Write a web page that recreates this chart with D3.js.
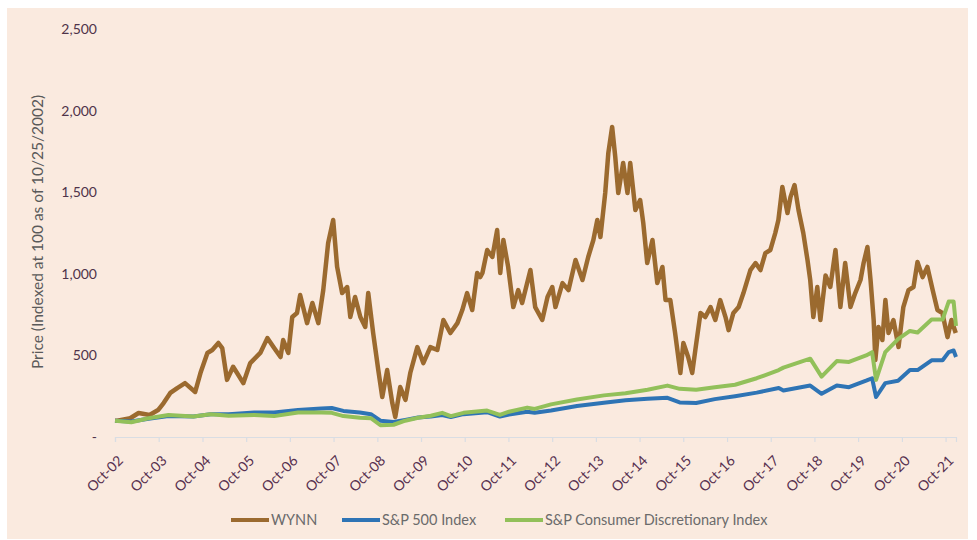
<!DOCTYPE html>
<html>
<head>
<meta charset="utf-8">
<script src="https://cdn.jsdelivr.net/npm/d3@7"></script>
<style>
  html, body { margin: 0; padding: 0; background: #ffffff; }
  svg { display: block; }
  text { font-family: Lato, "Open Sans", "Noto Sans", sans-serif; }
</style>
</head>
<body>
<svg id="chart" width="977" height="540"></svg>
<script>
// ---------- data ----------
const seriesNames = ["WYNN", "S&P 500 Index", "S&P Consumer Discretionary Index"];
const yTickValues = [0, 500, 1000, 1500, 2000, 2500];
const xTickLabels = ["Oct-02","Oct-03","Oct-04","Oct-05","Oct-06","Oct-07","Oct-08","Oct-09","Oct-10","Oct-11",
                     "Oct-12","Oct-13","Oct-14","Oct-15","Oct-16","Oct-17","Oct-18","Oct-19","Oct-20","Oct-21"];

const wynnDates = [
 "2002-10-25","2002-11-13","2003-03-01","2003-05-10","2003-08-10","2003-10-20","2003-12-05","2004-01-30","2004-03-28",
 "2004-06-01","2004-08-25","2004-10-08","2004-12-05","2005-01-15","2005-03-07","2005-04-08","2005-05-18","2005-07-08",
 "2005-08-10","2005-10-01","2005-11-28","2006-02-20","2006-04-20","2006-06-10","2006-08-08","2006-08-30","2006-10-12",
 "2006-11-14","2006-12-24","2007-01-19","2007-03-18","2007-05-01","2007-06-20","2007-07-31","2007-09-10","2007-10-22",
 "2007-11-24","2008-01-05","2008-02-16","2008-03-13","2008-04-22","2008-06-05","2008-07-16","2008-08-10","2008-09-20",
 "2008-11-02","2008-12-05","2009-01-15","2009-02-27","2009-03-24","2009-05-04","2009-06-17","2009-07-27","2009-09-24",
 "2009-11-13","2010-01-11","2010-03-10","2010-04-30","2010-06-27","2010-08-25","2010-10-05","2010-11-14","2010-12-27",
 "2011-02-06","2011-03-04","2011-03-22","2011-05-01","2011-06-13","2011-07-23","2011-08-18","2011-09-13","2011-10-23",
 "2011-12-05","2012-01-15","2012-02-17","2012-04-26","2012-06-05","2012-08-03","2012-09-16","2012-10-26","2012-11-21",
 "2013-01-19","2013-03-10","2013-05-08","2013-07-05","2013-08-22","2013-10-04","2013-11-06","2013-12-02","2014-01-11",
 "2014-02-06","2014-03-10","2014-04-05","2014-04-30","2014-06-10","2014-07-16","2014-08-08","2014-09-20","2014-10-30",
 "2014-11-25","2014-12-28","2015-02-10","2015-03-22","2015-05-04","2015-05-30","2015-07-09","2015-08-18","2015-10-01",
 "2015-10-26","2015-12-05","2016-01-08","2016-02-03","2016-03-17","2016-04-26","2016-06-09","2016-07-19","2016-08-29",
 "2016-10-12","2016-11-07","2016-12-17","2017-01-30","2017-03-11","2017-05-08","2017-06-20","2017-07-31","2017-09-10",
 "2017-10-22","2017-12-02","2017-12-28","2018-01-30","2018-03-14","2018-04-08","2018-05-12","2018-06-14","2018-07-24",
 "2018-08-28","2018-09-20","2018-10-16","2018-11-18","2018-12-14","2019-01-26","2019-03-07","2019-04-19","2019-05-30",
 "2019-07-09","2019-08-22","2019-10-01","2019-11-14","2019-12-10","2020-01-11","2020-02-06","2020-03-03","2020-03-17",
 "2020-04-12","2020-05-15","2020-06-09","2020-07-05","2020-08-15","2020-09-27","2020-11-06","2020-12-19","2021-01-30",
 "2021-03-04","2021-04-16","2021-05-26","2021-07-09","2021-08-18","2021-09-28","2021-11-10","2021-12-13","2022-01-18"
];
const wynnValues = [
 100,100,115,147,135,165,208,270,300,
 330,276,392,515,533,576,545,350,430,
 392,330,453,515,606,551,490,594,515,
 735,760,870,698,821,698,900,1189,1330,
 1042,882,919,735,858,735,674,882,637,
 410,245,410,208,123,306,227,392,551,
 453,551,533,717,637,698,778,882,778,
 1005,980,1005,1146,1103,1268,1005,1207,1042,
 796,900,821,1023,796,717,858,919,796,
 943,900,1085,962,1103,1207,1330,1225,1495,
 1740,1900,1716,1495,1679,1495,1679,1391,1452,
 1311,1066,1207,943,1042,839,839,637,392,
 576,490,392,533,760,735,796,717,839,
 735,655,760,796,882,1023,1066,1023,1127,
 1146,1250,1330,1532,1372,1470,1544,1391,1250,
 1085,962,735,919,717,990,919,1146,796,
 1066,796,882,962,1066,1164,962,717,472,
 674,594,839,637,717,551,796,900,919,
 1072,980,1042,900,778,760,612,717,637
];

const spxDates = [
 "2002-10-25","2003-03-10","2003-08-01","2004-01-15","2004-08-10","2005-01-01","2005-06-01","2006-01-01","2006-06-15",
 "2007-01-01","2007-07-15","2007-10-10","2008-01-15","2008-06-01","2008-09-01","2008-11-20","2009-03-09","2009-06-15",
 "2009-10-01","2010-01-15","2010-04-20","2010-07-01","2010-10-15","2011-04-30","2011-08-15","2011-10-30","2012-03-30",
 "2012-06-01","2012-10-15","2013-05-20","2013-12-31","2014-06-30","2014-12-31","2015-06-15","2015-09-25","2016-02-10",
 "2016-07-15","2016-12-31","2017-06-30","2017-12-31","2018-02-08","2018-09-20","2018-12-24","2019-04-30","2019-08-10",
 "2019-12-31","2020-02-19","2020-03-23","2020-06-08","2020-09-23","2020-12-31","2021-03-05","2021-06-30","2021-09-30",
 "2021-11-20","2021-12-31","2022-01-20"
];
const spxValues = [
 100,95,112,128,125,140,140,150,150,
 165,175,178,160,150,140,100,92,105,
 120,125,135,122,140,152,125,138,155,
 148,162,190,210,225,235,240,212,208,
 232,250,272,300,285,315,265,315,305,
 345,360,245,330,345,410,410,470,470,
 520,530,490
];
const cdDates = spxDates;
const cdValues = [
 100,90,115,135,125,140,130,135,128,
 150,150,148,128,118,115,72,75,100,
 118,130,148,128,148,162,135,155,180,
 172,200,230,255,268,290,315,295,290,
 305,320,360,410,425,480,370,465,460,
 500,520,350,520,600,650,640,720,720,
 830,830,680
];

// ---------- layout ----------
const svg = d3.select("#chart");
const parse = d3.timeParse("%Y-%m-%d");
const colors = ["#9B6A2F", "#2E74B5", "#92C05A"];

svg.append("rect").attr("x", 7).attr("y", 8).attr("width", 961).attr("height", 531).attr("fill", "#FAEADF");

const x = d3.scaleTime()
  .domain([parse("2002-10-25"), parse("2022-01-20")])
  .range([115, 956]);
const y = d3.scaleLinear().domain([0, 2500]).range([437, 29]);

// y axis labels
const yAxis = d3.axisLeft(y).tickValues(yTickValues).tickSize(0).tickPadding(0)
  .tickFormat(d => d === 0 ? "-" : d3.format(",")(d));
const gy = svg.append("g").attr("transform", "translate(97,0)").call(yAxis);
gy.select(".domain").remove();
gy.selectAll("text").attr("fill", "#4f3349").attr("font-size", 14)
  .style("font-family", "Lato, sans-serif");

// x axis
const xTickDates = xTickLabels.map((l, i) => parse((2002 + i) + "-10-25"));
const xAxis = d3.axisBottom(x).tickValues(xTickDates).tickSize(5)
  .tickFormat((d, i) => xTickLabels[i]);
const gx = svg.append("g").attr("transform", "translate(0,437)").call(xAxis);
gx.select(".domain").attr("stroke", "#D9DDE3").attr("stroke-width", 1.2);
gx.selectAll(".tick line").attr("stroke", "#D9DDE3").attr("stroke-width", 1.2);
gx.selectAll("text")
  .attr("fill", "#57304f").attr("font-size", 14)
  .style("font-family", "Lato, sans-serif")
  .attr("text-anchor", "end")
  .attr("dy", "0.35em")
  .attr("y", 0)
  .attr("transform", "translate(5,21) rotate(-45)");

// y axis title
svg.append("text")
  .attr("transform", "translate(43,232) rotate(-90)")
  .attr("text-anchor", "middle")
  .attr("font-size", 15.5)
  .attr("fill", "#5a5a5a")
  .text("Price (Indexed at 100 as of 10/25/2002)");

// lines
const line = d3.line().x(d => x(d.date)).y(d => y(d.value));
const series = [
  { dates: wynnDates, values: wynnValues, width: 4.5 },
  { dates: spxDates, values: spxValues, width: 4 },
  { dates: cdDates, values: cdValues, width: 4 }
];
series.forEach((s, i) => {
  const data = s.dates.map((d, j) => ({ date: parse(d), value: s.values[j] }));
  svg.append("path").datum(data)
    .attr("fill", "none")
    .attr("stroke", colors[i])
    .attr("stroke-width", s.width)
    .attr("stroke-linejoin", "round")
    .attr("d", line);
});

// legend
const legendItems = [
  { x: 231, tx: 271 },
  { x: 342, tx: 382 },
  { x: 505, tx: 545 }
];
legendItems.forEach((it, i) => {
  svg.append("line").attr("x1", it.x).attr("x2", it.x + 38)
    .attr("y1", 520).attr("y2", 520)
    .attr("stroke", colors[i]).attr("stroke-width", 4);
  svg.append("text").attr("x", it.tx).attr("y", 520).attr("dy", "0.35em")
    .attr("font-size", 14.5).attr("fill", "#6b6b6b")
    .text(seriesNames[i]);
});
</script>
</body>
</html>
